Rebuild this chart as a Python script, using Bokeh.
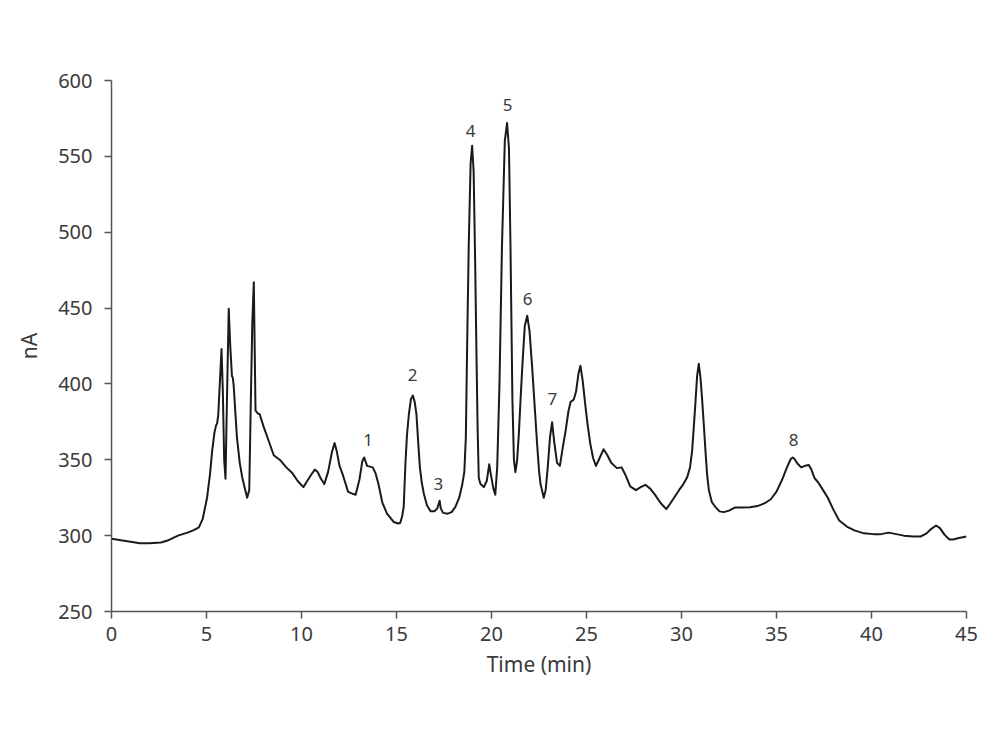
from bokeh.plotting import figure
from bokeh.models import Range1d, FixedTicker, ColumnDataSource
from bokeh.core.properties import value
from bokeh.embed import file_html
from bokeh.resources import INLINE

# Chromatogram trace (time in min, signal in nA)
time_min = [0.0, 0.5, 1.0, 1.5, 2.0, 2.6, 3.0, 3.5, 4.0, 4.3, 4.6, 4.8, 5.03, 5.18, 5.3, 5.42, 5.5, 5.56,
            5.62, 5.7, 5.79, 5.86, 5.93, 6.0, 6.07, 6.17, 6.25, 6.34, 6.38, 6.43, 6.5, 6.6, 6.75, 6.88,
            7.0, 7.14, 7.25, 7.32, 7.41, 7.49, 7.54, 7.58, 7.7, 7.8, 8.0, 8.2, 8.54, 8.9, 9.2, 9.5, 9.8,
            10.1, 10.3, 10.5, 10.7, 10.85, 11.0, 11.2, 11.4, 11.6, 11.74, 11.85, 12.0, 12.15, 12.3,
            12.45, 12.6, 12.85, 13.05, 13.2, 13.3, 13.45, 13.6, 13.75, 13.9, 14.05, 14.25, 14.5, 14.85,
            15.1, 15.2, 15.3, 15.38, 15.47, 15.55, 15.65, 15.76, 15.86, 15.96, 16.05, 16.15, 16.23,
            16.33, 16.44, 16.6, 16.8, 17.0, 17.15, 17.22, 17.27, 17.33, 17.45, 17.7, 17.9, 18.1, 18.3,
            18.45, 18.57, 18.65, 18.72, 18.8, 18.9, 18.98, 19.06, 19.14, 19.2, 19.27, 19.33, 19.42,
            19.6, 19.75, 19.88, 19.97, 20.1, 20.2, 20.3, 20.42, 20.55, 20.7, 20.82, 20.92, 21.0, 21.1,
            21.18, 21.26, 21.35, 21.44, 21.53, 21.62, 21.75, 21.88, 22.0, 22.14, 22.3, 22.4, 22.5,
            22.58, 22.75, 22.85, 22.96, 23.08, 23.19, 23.3, 23.45, 23.6, 23.75, 23.9, 24.05, 24.16,
            24.33, 24.45, 24.58, 24.68, 24.8, 24.95, 25.05, 25.2, 25.35, 25.5, 25.65, 25.9, 26.1, 26.3,
            26.6, 26.85, 27.05, 27.3, 27.6, 27.85, 28.1, 28.35, 28.6, 28.9, 29.2, 29.4, 29.86, 30.1,
            30.3, 30.45, 30.56, 30.65, 30.74, 30.82, 30.91, 31.0, 31.09, 31.18, 31.26, 31.35, 31.44,
            31.6, 31.79, 32.0, 32.23, 32.5, 32.8, 33.2, 33.6, 34.0, 34.4, 34.7, 35.0, 35.3, 35.55,
            35.75, 35.85, 35.95, 36.1, 36.3, 36.5, 36.7, 36.82, 37.0, 37.2, 37.45, 37.7, 38.0, 38.3,
            38.7, 39.1, 39.6, 40.1, 40.5, 40.9, 41.3, 41.7, 42.2, 42.6, 42.9, 43.15, 43.4, 43.6, 43.85,
            44.1, 44.3, 44.6, 45.0]
signal_na = [298, 297, 296, 295, 295, 295.5, 297, 300, 302, 303.5, 305.5, 311, 325, 340, 356, 368, 372.5, 374,
             380, 400, 423, 395, 350, 337.5, 385, 449.5, 425, 405, 404.5, 399, 385, 365, 348, 338.5,
             332, 325, 330, 380, 440, 467, 420, 382.5, 380.5, 380, 372, 365, 353, 349.5, 345, 341.5, 336,
             332, 336, 340, 343.5, 342, 338, 334, 342, 355, 361, 356, 346, 341, 335,
             329, 328, 327, 337, 349, 351.5, 346, 345.5, 345, 341, 334, 322, 314.5, 309,
             308, 308.5, 313, 319, 347.5, 366, 380, 390, 392.4, 388, 380, 360, 345,
             335, 327.6, 320, 316, 316, 318, 321, 323, 318, 315, 314.5, 315.5, 319, 325,
             333, 342, 365, 427, 490, 545, 557, 540, 480, 427, 370, 338, 334,
             332, 336, 347, 340, 331, 327, 345, 400, 490, 560, 572, 555, 490, 390,
             350, 341.8, 350, 367, 390, 411, 438, 445, 435, 411, 380, 360.5, 343,
             334, 325, 330, 345, 365, 374.8, 362, 348, 346, 358, 369, 382, 388,
             389.7, 395, 407, 412, 402, 384.7, 374, 360.5, 351, 346, 350, 357, 353, 348,
             344.5, 345, 340, 332.5, 330, 332, 333.5, 331, 327, 321.5, 317.5, 321, 329.8, 334,
             338.5, 345, 356, 372, 389, 405, 413.3, 404, 389, 372, 356, 340, 330,
             322, 318.8, 316, 315.5, 316.5, 318.5, 318.5, 318.7, 319.5, 321.5, 324, 329, 337, 345,
             350.5, 351.5, 350.5, 347.5, 345, 346, 346.5, 344, 338, 335, 330, 325, 317, 310,
             306, 303.5, 301.5, 301, 301, 302, 301, 300, 299.5, 299.5, 301.5, 304.5, 306.7, 305, 300.5,
             297.5, 297.5, 298.5, 299.5]

# Peak labels
peak_labels = ["1", "2", "3", "4", "5", "6", "7", "8"]
peak_label_t = [13.5, 15.85, 17.2, 18.9, 20.85, 21.9, 23.2, 35.9]
peak_label_na = [363, 406, 334, 567, 584, 456, 390, 363]

x_ticks = [0, 5, 10, 15, 20, 25, 30, 35, 40, 45]
y_ticks = [250, 300, 350, 400, 450, 500, 550, 600]

FONT = "Noto Sans"
TXT = "#3a3a3a"

p = figure(width=1000, height=750, output_backend="svg", toolbar_location=None,
           x_range=Range1d(0, 45), y_range=Range1d(250, 600),
           min_border_left=111, min_border_right=34, min_border_top=80, min_border_bottom=139)
p.outline_line_color = None
p.grid.visible = False
p.background_fill_color = "white"
p.border_fill_color = "white"

p.line(time_min, signal_na, line_color="#1a1a1a", line_width=2, line_join="round")

src = ColumnDataSource(dict(x=peak_label_t, y=peak_label_na, t=peak_labels))
p.text(x="x", y="y", text="t", source=src, text_align="center", text_baseline="middle",
       text_font=value(FONT), text_font_size="17px", text_color=TXT)

for ax in (p.xaxis[0], p.yaxis[0]):
    ax.axis_line_color = "#555555"
    ax.axis_line_width = 1.5
    ax.major_tick_line_color = "#555555"
    ax.major_tick_line_width = 1.5
    ax.major_tick_in = 0
    ax.major_tick_out = 7
    ax.minor_tick_line_color = None
    ax.major_label_text_font = FONT
    ax.major_label_text_font_size = "20px"
    ax.major_label_text_color = TXT
    ax.axis_label_text_font = FONT
    ax.axis_label_text_font_size = "21px"
    ax.axis_label_text_font_style = "normal"
    ax.axis_label_text_color = TXT

p.xaxis.ticker = FixedTicker(ticks=x_ticks)
p.yaxis.ticker = FixedTicker(ticks=y_ticks)
p.xaxis.axis_label = "Time (min)"
p.yaxis.axis_label = "nA"
p.xaxis.major_label_standoff = 8
p.yaxis.major_label_standoff = 12
p.xaxis.axis_label_standoff = 6
p.yaxis.axis_label_standoff = 12

open("out.html", "w").write(file_html(p, INLINE))
